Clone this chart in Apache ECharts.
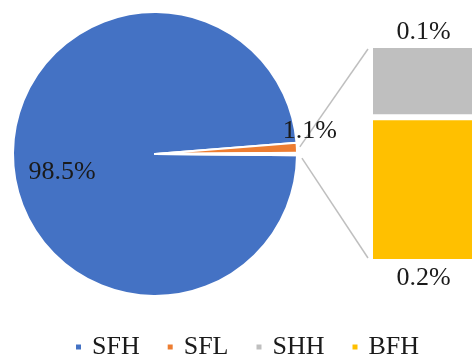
<!DOCTYPE html>
<html>
<head>
<meta charset="utf-8">
<style>
  html, body { margin: 0; padding: 0; background: #fff; }
  #chart { width: 472px; height: 361px; }
</style>
<script src="https://cdn.jsdelivr.net/npm/echarts@6/dist/echarts.min.js"></script>
</head>
<body>
<div id="chart"></div>
<script>
// Shares of each category (percent)
const pieNames = ['SFH', 'SFL'];
const pieValues = [98.5, 1.1];
const barNames = ['SHH', 'BFH'];
const barValues = [0.1, 0.2];
const legendNames = ['SFH', 'SFL', 'SHH', 'BFH'];

const COLORS = { SFH: '#4472C4', SFL: '#ED7D31', SHH: '#BFBFBF', BFH: '#FFC000' };
const FONT = "'Liberation Serif', 'Times New Roman', serif";
const TEXT = '#1a1a1a';

// The remainder slice is split out into the stacked bar on the right
const otherValue = barValues.reduce((a, b) => a + b, 0);
const total = pieValues.reduce((a, b) => a + b, 0) + otherValue;
const startAngle = -(otherValue / 2) / total * 360;

const PIE_CX = 155, PIE_CY = 154, PIE_R = 142;
const BAR_BORDER = 3;

const pieData = pieNames.map((n, i) => ({
  name: n,
  value: pieValues[i],
  itemStyle: { color: COLORS[n] },
  label: { position: i === 0 ? 'inside' : 'outside' }
}));
pieData.push({
  name: 'Other',
  value: otherValue,
  itemStyle: { color: '#ffffff' },
  label: { show: false }
});

const chart = echarts.init(document.getElementById('chart'), null, { renderer: 'canvas' });

const option = {
  animation: false,
  backgroundColor: '#ffffff',
  legend: {
    data: legendNames,
    left: 69,
    top: 329,
    icon: 'rect',
    itemWidth: 7,
    itemHeight: 7,
    itemGap: 26,
    textStyle: {
      fontFamily: FONT,
      fontSize: 26,
      color: TEXT,
      padding: [0, 0, 0, 5]
    }
  },
  grid: { left: 370, right: -5, top: 45, bottom: 99, outerBoundsMode: 'none', containLabel: false },
  xAxis: { type: 'category', data: [''], show: false },
  yAxis: { type: 'value', min: 0, max: otherValue, show: false },
  series: [
    {
      type: 'pie',
      center: [PIE_CX, PIE_CY],
      radius: [0, PIE_R],
      startAngle: startAngle,
      clockwise: true,
      data: pieData,
      itemStyle: { borderColor: '#ffffff', borderWidth: 2 },
      label: {
        show: true,
        formatter: p => p.value.toFixed(1) + '%',
        fontFamily: FONT,
        fontSize: 26,
        color: TEXT
      },
      labelLine: { show: false, length: 0, length2: 0 },
      labelLayout: function (p) {
        if (p.dataIndex === 0) return { dx: -9.5, dy: 8 };
        if (p.dataIndex === 1) return { dx: -9.5, dy: -8.5 };
        return {};
      },
      emphasis: { disabled: true }
    },
    {
      name: 'BFH',
      type: 'bar',
      stack: 'other',
      barWidth: '100%',
      data: [barValues[1]],
      itemStyle: { color: COLORS.BFH, borderColor: '#ffffff', borderWidth: BAR_BORDER },
      label: {
        show: true,
        position: 'bottom',
        distance: 3,
        formatter: p => p.value.toFixed(1) + '%',
        fontFamily: FONT, fontSize: 26, color: TEXT
      },
      emphasis: { disabled: true }
    },
    {
      name: 'SHH',
      type: 'bar',
      stack: 'other',
      barWidth: '100%',
      data: [barValues[0]],
      itemStyle: { color: COLORS.SHH, borderColor: '#ffffff', borderWidth: BAR_BORDER },
      label: {
        show: true,
        position: 'top',
        distance: 0,
        formatter: p => p.value.toFixed(1) + '%',
        fontFamily: FONT, fontSize: 26, color: TEXT
      },
      emphasis: { disabled: true }
    }
  ]
};

chart.setOption(option);

// Connector lines from the pie's split-out slice to the stacked bar
const barTop = chart.convertToPixel({ yAxisIndex: 0 }, otherValue) + BAR_BORDER;
const barBottom = chart.convertToPixel({ yAxisIndex: 0 }, 0) - BAR_BORDER;
const barLeft = option.grid.left + BAR_BORDER;
const edge = (deg, extra) => {
  const a = deg * Math.PI / 180;
  return [PIE_CX + (PIE_R + extra) * Math.cos(a), PIE_CY - (PIE_R + extra) * Math.sin(a)];
};
const p1 = edge(2.8, 3);
const p2 = edge(-1.6, 5);
chart.setOption({
  graphic: [
    { type: 'line', shape: { x1: p1[0], y1: p1[1], x2: barLeft - 5, y2: barTop + 1 },
      style: { stroke: '#BFBFBF', lineWidth: 1.5 }, silent: true },
    { type: 'line', shape: { x1: p2[0], y1: p2[1], x2: barLeft - 5, y2: barBottom - 1 },
      style: { stroke: '#BFBFBF', lineWidth: 1.5 }, silent: true }
  ]
});
</script>
</body>
</html>
